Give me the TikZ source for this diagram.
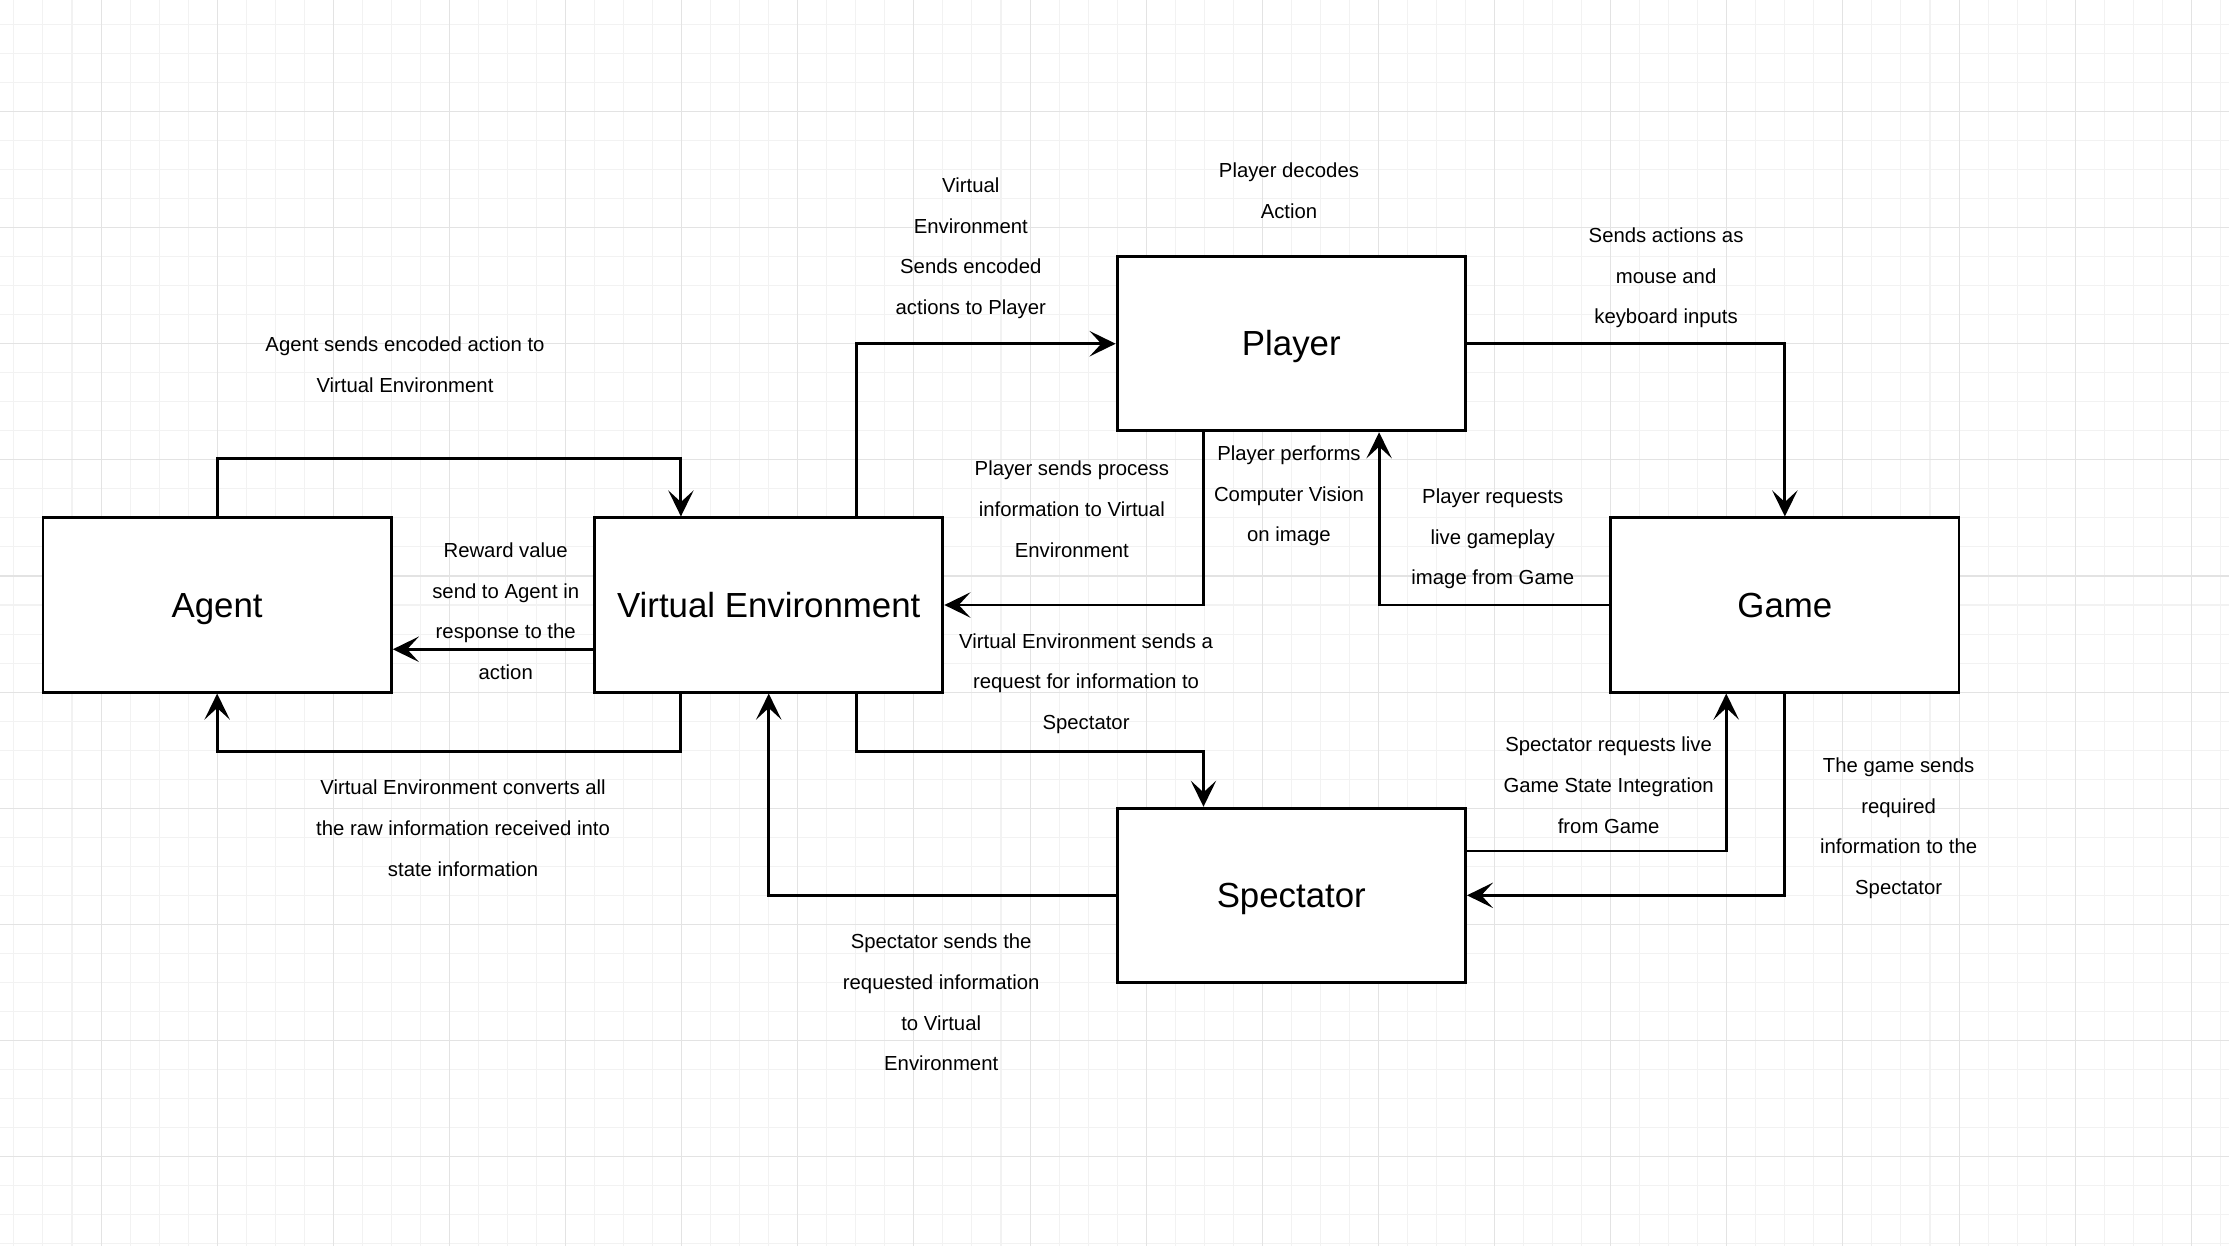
\documentclass[tikz,border=0pt]{standalone}
\usepackage{fontspec}
\setmainfont{Liberation Sans}
\usetikzlibrary{arrows.meta,calc}

\begin{document}
\begin{tikzpicture}[x=0.058cm,y=-0.058cm,
    box/.style={draw,line width=1.65pt,fill=white,minimum width=6.96cm,minimum height=3.48cm,inner sep=0pt,text height=17.9pt,text depth=4.2pt,font=\fontsize{19.8}{23.8}\selectfont},
    lbl/.style={align=center,inner sep=0pt,font=\fontsize{11.55}{23.1}\selectfont},
    flow/.style={line width=1.65pt,-{Stealth[length=14.8pt,width=14.4pt,inset=6.6pt]}}]
      \useasboundingbox (0,0) rectangle (767.8,429.2);
      \fill[white] (0,0) rectangle (767.8,429.2);
      % grid
      \foreach \x in {4.8,14.8,...,764.8} \draw[black!5,line width=0.6pt] (\x,0) -- (\x,429.2);
      \foreach \y in {8.4,18.4,...,428.4} \draw[black!5,line width=0.6pt] (0,\y) -- (767.8,\y);
      \foreach \x in {34.8,74.8,...,754.8} \draw[black!11,line width=0.6pt] (\x,0) -- (\x,429.2);
      \foreach \y in {38.4,78.4,...,398.4} \draw[black!11,line width=0.6pt] (0,\y) -- (767.8,\y);

      \node[box] (agent) at (74.8,208.4) {Agent};
      \node[box] (ve) at (264.8,208.4) {Virtual Environment};
      \node[box] (player) at (444.8,118.4) {Player};
      \node[box] (game) at (614.8,208.4) {Game};
      \node[box] (spectator) at (444.8,308.4) {Spectator};

      \draw[flow] (agent.north) -- ++(0,-20) -| ($(ve.north west)!.25!(ve.north east)$);
      \draw[flow] ($(ve.south west)!.5!(ve.west)$) coordinate (rw) -- (rw -| agent.east);
      \draw[flow] ($(ve.south west)!.25!(ve.south east)$) -- ++(0,20) -| (agent.south);
      \draw[flow] ($(ve.north)!.5!(ve.north east)$) |- (player.west);
      \draw[flow] (player.east) -| (game.north);
      \draw[flow] ($(player.south west)!.25!(player.south east)$) |- (ve.east);
      \draw[flow] (game.west) -| ($(player.south)!.5!(player.south east)$);
      \draw[flow] ($(ve.south)!.5!(ve.south east)$) -- ++(0,20) -| ($(spectator.north west)!.25!(spectator.north east)$);
      \draw[flow] (spectator.west) -| (ve.south);
      \draw[flow] ($(spectator.east)!.5!(spectator.north east)$) -| ($(game.south west)!.3333!(game.south east)$);
      \draw[flow] (game.south) |- (spectator.east);

      \node[lbl] (lencode) at (139.5,125.6) {Agent sends encoded action to\\Virtual Environment};
      \node[lbl] (lreward) at (174.2,210.5) {Reward value\\send to Agent in\\response to the\\action};
      \node[lbl] (lstate) at (159.5,285.3) {Virtual Environment converts all\\the raw information received into\\state information};
      \node[lbl] (lveplayer) at (334.4,85.5) {Virtual\\Environment\\Sends encoded\\actions to Player};
      \node[lbl] (ldecode) at (444,65.6) {Player decodes\\Action};
      \node[lbl] (linputs) at (573.9,95.7) {Sends actions as\\mouse and\\keyboard inputs};
      \node[lbl] (lprocess) at (369.2,175.4) {Player sends process\\information to Virtual\\Environment};
      \node[lbl] (lvision) at (444,170.8) {Player performs\\Computer Vision\\on image};
      \node[lbl] (lgameplay) at (514.2,185.6) {Player requests\\live gameplay\\image from Game};
      \node[lbl] (lrequest) at (374.1,235.4) {Virtual Environment sends a\\request for information to\\Spectator};
      \node[lbl] (lgsi) at (554.1,270.5) {Spectator requests live\\Game State Integration\\from Game};
      \node[lbl] (lgameinfo) at (654,285.3) {The game sends\\required\\information to the\\Spectator};
      \node[lbl] (lspecinfo) at (324.2,345.3) {Spectator sends the\\requested information\\to Virtual\\Environment};
\end{tikzpicture}
\end{document}
